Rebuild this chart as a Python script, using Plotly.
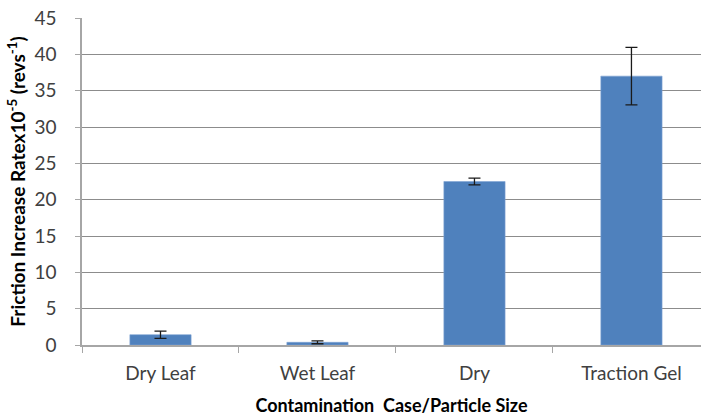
import plotly.graph_objects as go

# Friction increase rate per contamination case
categories = ["Dry Leaf", "Wet Leaf", "Dry", "Traction Gel"]
rates = [1.42, 0.37, 22.5, 37.0]
rate_errors = [0.5, 0.2, 0.46, 3.95]

y_ticks = [0, 5, 10, 15, 20, 25, 30, 35, 40, 45]

fig = go.Figure(
    go.Bar(
        x=categories,
        y=rates,
        width=0.39,
        marker=dict(color="#4F81BD", line=dict(color="#7FA3D3", width=0.6)),
        error_y=dict(
            type="data",
            array=rate_errors,
            visible=True,
            color="#1a1a1a",
            thickness=1.3,
            width=6,
        ),
    )
)

fig.update_layout(
    width=701,
    height=417,
    margin=dict(l=82, r=0, t=18, b=72),
    paper_bgcolor="white",
    plot_bgcolor="white",
    showlegend=False,
    font=dict(family="Lato", color="#404040"),
    bargap=0.6,
)

fig.update_xaxes(
    type="category",
    range=[-0.5, 3.443],
    tickson="boundaries",
    ticks="outside",
    ticklen=6,
    tickcolor="#a6a6a6",
    showline=True,
    linecolor="#a6a6a6",
    linewidth=1.5,
    tickfont=dict(size=19, color="#404040"),
    ticklabelstandoff=10,
    title=dict(
        text="<b>Contamination  Case/Particle Size</b>",
        font=dict(size=18, color="#000000"),
        standoff=17,
    ),
)

fig.update_yaxes(
    range=[0, 45],
    tickvals=y_ticks,
    showgrid=True,
    gridcolor="#8c8c8c",
    gridwidth=1,
    zeroline=False,
    showline=True,
    linecolor="#a6a6a6",
    linewidth=1.5,
    ticks="outside",
    ticklen=5,
    tickcolor="#a6a6a6",
    tickfont=dict(size=19, color="#404040"),
    ticklabelstandoff=15,
    title=dict(
        text="<b>Friction Increase Ratex10<sup>-5</sup> (revs<sup>-1</sup>)</b>",
        font=dict(size=19, color="#000000"),
        standoff=4,
    ),
)

fig.write_html("out.html")
